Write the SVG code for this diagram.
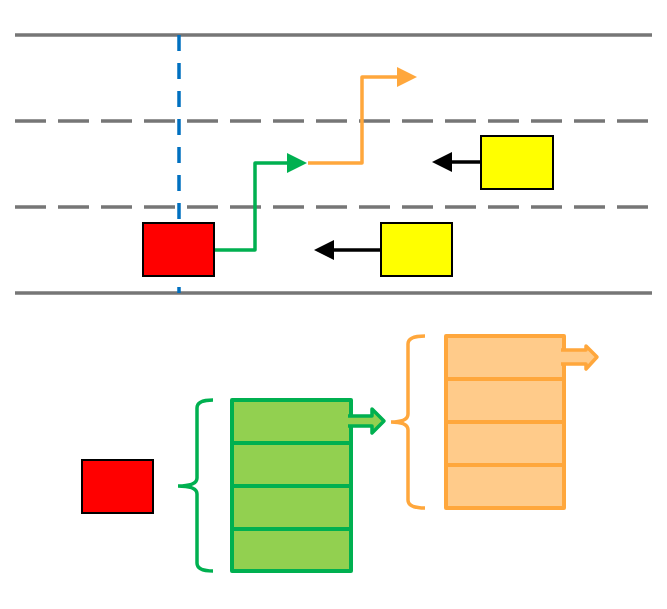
<svg xmlns="http://www.w3.org/2000/svg" width="667" height="609" viewBox="0 0 667 609">
<defs>
<style>
.road{stroke:#767676;stroke-width:3.5;fill:none}
.dash{stroke-dasharray:31 12}
.car{stroke:#000;stroke-width:2}
.g{stroke:#00B050;stroke-width:3.5;fill:none}
.o{stroke:#FFA73C;stroke-width:3.5;fill:none}
.gs{fill:#92D050;stroke:#00B050;stroke-width:4;stroke-linejoin:round}
.os{fill:#FFCB8A;stroke:#FFA73C;stroke-width:4;stroke-linejoin:round}
.gl{stroke:#00B050;stroke-width:4}
.ol{stroke:#FFA73C;stroke-width:4}
</style>
</defs>
<rect width="667" height="609" fill="#fff"/>
<g id="road">
<line class="road" x1="15" y1="35" x2="652" y2="35"/>
<line class="road dash" x1="15" y1="121" x2="652" y2="121"/>
<line class="road dash" x1="15" y1="207" x2="652" y2="207"/>
<line class="road" x1="15" y1="293" x2="652" y2="293"/>
<line x1="179" y1="35" x2="179" y2="293" stroke="#0070C0" stroke-width="3.5" stroke-dasharray="16 12"/>
</g>
<g id="connectors">
<path d="M214,250 H255 V163 H290" stroke="#00B050" stroke-width="3.5" fill="none" stroke-linejoin="round"/>
<polygon points="287,153 307,163 287,173" fill="#00B050"/>
<path d="M308,163 H362 V77 H398" stroke="#FFA73C" stroke-width="3.5" fill="none" stroke-linejoin="round"/>
<polygon points="397,67 417,77 397,87" fill="#FFA73C"/>
<line x1="381" y1="250" x2="332" y2="250" stroke="#000" stroke-width="3.5"/>
<polygon points="334,240 314,250 334,260" fill="#000"/>
<line x1="481" y1="162" x2="450" y2="162" stroke="#000" stroke-width="3.5"/>
<polygon points="452,152 432,162 452,172" fill="#000"/>
</g>
<g id="car-red"><rect class="car" x="143" y="223" width="71" height="53" fill="#FF0000"/></g>
<g id="car-yellow-1"><rect class="car" x="381" y="223" width="71" height="53" fill="#FFFF00"/></g>
<g id="car-yellow-2"><rect class="car" x="481" y="136" width="72" height="53" fill="#FFFF00"/></g>
<g id="legend-red"><rect class="car" x="82" y="460" width="71" height="53" fill="#FF0000"/></g>
<g id="green-bracket"><path class="g" d="M213,400 Q197,400 197,408 V478 Q197,486 178,486 Q197,486 197,494 V563 Q197,571 213,571"/></g>
<g id="green-stack">
<rect class="gs" x="232" y="400" width="119" height="171"/>
<line class="gl" x1="232" y1="443" x2="351" y2="443"/>
<line class="gl" x1="232" y1="486" x2="351" y2="486"/>
<line class="gl" x1="232" y1="529" x2="351" y2="529"/>
<path d="M348,416 H372 V409 L384,421 L372,433 V426 H348" fill="#92D050" stroke="#00B050" stroke-width="3.5" stroke-linejoin="round"/>
</g>
<g id="orange-bracket"><path class="o" d="M425,336 Q408,336 408,344 V414 Q408,422 391,422 Q408,422 408,430 V500 Q408,508 425,508"/></g>
<g id="orange-stack">
<rect class="os" x="446" y="336" width="118" height="172"/>
<line class="ol" x1="446" y1="379" x2="564" y2="379"/>
<line class="ol" x1="446" y1="422" x2="564" y2="422"/>
<line class="ol" x1="446" y1="465" x2="564" y2="465"/>
<path d="M561,350 H586 V346 L597,357 L586,369 V364 H561" fill="#FFCB8A" stroke="#FFA73C" stroke-width="3.5" stroke-linejoin="round"/>
</g>
</svg>
